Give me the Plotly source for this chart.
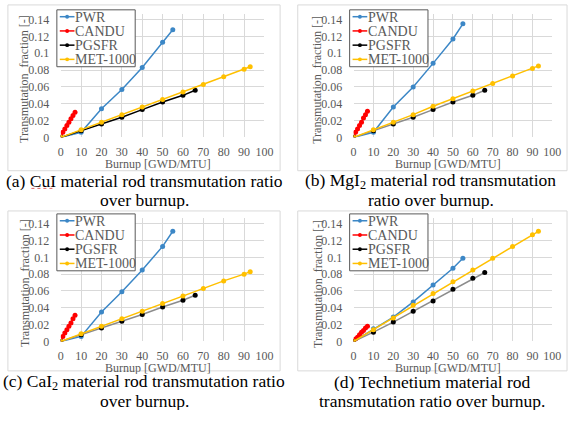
import plotly.graph_objects as go

W, H = 577, 423

reactors = ["PWR", "CANDU", "PGSFR", "MET-1000"]
colors = {"PWR": "#3C87C6", "CANDU": "#FF0000", "PGSFR": "#000000", "MET-1000": "#FFC000"}

burnup_pwr = [0, 10, 20, 30, 40, 50, 55]
burnup_candu = [0, 1, 2, 3, 4, 5, 6, 7]
burnup_pgsfr = [0, 10, 20, 30, 40, 50, 60, 66]
burnup_met = [0, 10, 20, 30, 40, 50, 60, 70, 80, 90, 93]

# (a) CuI
cui_pwr = [0, 0.006, 0.034, 0.057, 0.083, 0.113, 0.128]
cui_candu = [0, 0.006, 0.010, 0.014, 0.018, 0.022, 0.026, 0.030]
cui_pgsfr = [0, 0.008, 0.016, 0.024, 0.033, 0.042, 0.050, 0.056]
cui_met = [0, 0.009, 0.018, 0.027, 0.036, 0.045, 0.054, 0.063, 0.072, 0.081, 0.084]

# (b) MgI2
mgi_pwr = [0, 0.006, 0.036, 0.060, 0.088, 0.117, 0.135]
mgi_candu = [0, 0.006, 0.010, 0.014, 0.018, 0.023, 0.027, 0.031]
mgi_pgsfr = [0, 0.008, 0.016, 0.024, 0.033, 0.042, 0.050, 0.056]
mgi_met = [0, 0.009, 0.018, 0.027, 0.037, 0.046, 0.055, 0.064, 0.073, 0.082, 0.085]

# (c) CaI2
cai_pwr = [0, 0.006, 0.035, 0.059, 0.085, 0.113, 0.131]
cai_candu = [0, 0.006, 0.010, 0.014, 0.018, 0.022, 0.027, 0.031]
cai_pgsfr = [0, 0.008, 0.016, 0.024, 0.032, 0.041, 0.049, 0.055]
cai_met = [0, 0.009, 0.018, 0.027, 0.036, 0.045, 0.054, 0.063, 0.072, 0.080, 0.083]

# (d) Technetium
tc_pwr = [0, 0.015, 0.029, 0.047, 0.067, 0.087, 0.099]
tc_candu = [0, 0.003, 0.005, 0.008, 0.011, 0.013, 0.016, 0.018]
tc_pgsfr = [0, 0.011, 0.023, 0.036, 0.048, 0.062, 0.075, 0.082]
tc_met = [0, 0.014, 0.028, 0.043, 0.057, 0.071, 0.085, 0.099, 0.113, 0.127, 0.131]

captions = [
    ("(a) CuI material rod transmutation ratio", "over burnup."),
    ("(b) MgI<sub>2</sub> material rod transmutation", "ratio over burnup."),
    ("(c) CaI<sub>2</sub> material rod transmutation ratio", "over burnup."),
    ("(d) Technetium material rod", "transmutation ratio over burnup."),
]

x_ticks = [0, 10, 20, 30, 40, 50, 60, 70, 80, 90, 100]
y_ticks = [0, 0.02, 0.04, 0.06, 0.08, 0.1, 0.12, 0.14]
y_ticktext = ["0", "0.02", "0.04", "0.06", "0.08", "0.1", "0.12", "0.14"]

panels = [
    (cui_pwr, cui_candu, cui_pgsfr, cui_met, "#000000"),
    (mgi_pwr, mgi_candu, mgi_pgsfr, mgi_met, "#8C8C8C"),
    (cai_pwr, cai_candu, cai_pgsfr, cai_met, "#8C8C8C"),
    (tc_pwr, tc_candu, tc_pgsfr, tc_met, "#8C8C8C"),
]

# pixel geometry: (x0, x100, y0px, y014px)
geom = [
    (59, 267, 139, 19),
    (358, 561, 139, 19),
    (59, 267, 347, 227),
    (358, 561, 347, 227),
]
frames = [(5, 4, 283, 173), (301, 4, 576, 173), (5, 214, 283, 377), (301, 214, 576, 377)]
cap_pos = [(144, 183, 203), (437, 183, 203), (144, 388, 408), (438, 388, 408)]

YMAX = 0.147
XMAX = 100

fig = go.Figure()
font_fam = "Liberation Serif"
tick_col = "#595959"
shapes = []
annotations = []

def px(x):
    return x / W

def py(y):
    return 1 - y / H

for i, (pwr, candu, pgsfr, met, pg_line) in enumerate(panels):
    n = i + 1
    xa = "x" if n == 1 else f"x{n}"
    ya = "y" if n == 1 else f"y{n}"
    series = [
        ("PWR", burnup_pwr, pwr, colors["PWR"], colors["PWR"]),
        ("CANDU", burnup_candu, candu, colors["CANDU"], colors["CANDU"]),
        ("PGSFR", burnup_pgsfr, pgsfr, pg_line, "#000000"),
        ("MET-1000", burnup_met, met, colors["MET-1000"], colors["MET-1000"]),
    ]
    for name, xs, ys, lc, mc in series:
        fig.add_trace(go.Scatter(
            x=xs, y=ys, mode="lines+markers", name=name,
            line=dict(color=lc, width=1.5), marker=dict(color=mc, size=5),
            xaxis=xa, yaxis=ya, showlegend=False,
        ))
    x0, x100, y0, y14 = geom[i]
    pxper = (x100 - x0) / 100.0
    pyper = (y0 - y14) / 0.14
    ax_common = dict(showgrid=True, gridcolor="#D9D9D9", gridwidth=1, zeroline=False,
                     showline=False, tickfont=dict(family=font_fam, size=12, color=tick_col),
                     ticks="outside", tickcolor="rgba(0,0,0,0)", fixedrange=True)
    fig.update_layout({
        ("xaxis" if n == 1 else f"xaxis{n}"): dict(
            domain=[px(x0), px(x0 + pxper * XMAX)], range=[0, XMAX], anchor=ya,
            tickvals=x_ticks, ticklen=3, **ax_common),
        ("yaxis" if n == 1 else f"yaxis{n}"): dict(
            domain=[py(y0), py(y0 - pyper * YMAX)], range=[0, YMAX], anchor=xa,
            tickvals=y_ticks, ticktext=y_ticktext, ticklen=8, **ax_common),
    })
    # axis titles
    annotations.append(dict(xref="paper", yref="paper", x=px(x0 + (x100 - x0) / 2 - 5), y=py(y0 + 27),
                            xanchor="center", yanchor="middle", text="Burnup [GWD/MTU]", showarrow=False,
                            height=12, borderpad=0,
                            font=dict(family=font_fam, size=12, color=tick_col)))
    annotations.append(dict(xref="paper", yref="paper", x=px(x0 - 37), y=py((y0 + y14) / 2 + 1),
                            xanchor="center", yanchor="middle", text="Transmutation  fraction [-]",
                            textangle=-90, showarrow=False, borderpad=0,
                            font=dict(family=font_fam, size=12, color=tick_col)))
    fx0, fy0, fx1, fy1 = frames[i]
    shapes.append(dict(type="rect", xref="paper", yref="paper",
                       x0=px(fx0), x1=px(fx1), y0=py(fy1), y1=py(fy0),
                       line=dict(color="#D9D9D9", width=1), fillcolor="rgba(0,0,0,0)", layer="below"))
    # legend box
    lx0 = x0 - 4
    lx1 = lx0 + 80
    ly0 = y14 - 10
    ly1 = ly0 + 58
    shapes.append(dict(type="rect", xref="paper", yref="paper",
                       x0=px(lx0), x1=px(lx1), y0=py(ly1), y1=py(ly0),
                       line=dict(color="#595959", width=1), fillcolor="white", layer="above"))
    for k, name in enumerate(reactors):
        yy = ly0 + 7 + k * 14.5
        c = colors[name]
        shapes.append(dict(type="line", xref="paper", yref="paper",
                           x0=px(lx0 + 3), x1=px(lx0 + 18), y0=py(yy), y1=py(yy),
                           line=dict(color=c, width=1.5), layer="above"))
        shapes.append(dict(type="circle", xref="paper", yref="paper",
                           x0=px(lx0 + 8.5), x1=px(lx0 + 12.5), y0=py(yy + 2), y1=py(yy - 2),
                           line=dict(color=c, width=0), fillcolor=c, layer="above"))
        annotations.append(dict(xref="paper", yref="paper", x=px(lx0 + 18), y=py(yy + 0.5),
                                xanchor="left", yanchor="middle", text=name, showarrow=False,
                                height=13, borderpad=0,
                                font=dict(family=font_fam, size=14, color=tick_col)))
    cx, cy1, cy2 = cap_pos[i]
    l1, l2 = captions[i]
    for txt, cy in ((l1, cy1), (l2, cy2)):
        annotations.append(dict(xref="paper", yref="paper", x=px(cx), y=py(cy),
                                xanchor="center", yanchor="middle", text=txt, showarrow=False,
                                height=18, borderpad=0,
                                font=dict(family=font_fam, size=17.5, color="#000000")))

# red spell-check squiggle under "CuI"
shapes.append(dict(type="line", xref="paper", yref="paper",
                   x0=px(29), x1=px(52), y0=py(191), y1=py(191),
                   line=dict(color="#E06060", width=1, dash="dot"), layer="above"))

fig.update_layout(width=W, height=H, margin=dict(l=0, r=0, t=0, b=0),
                  paper_bgcolor="white", plot_bgcolor="white",
                  font=dict(family=font_fam),
                  shapes=shapes, annotations=annotations, showlegend=False)
fig.write_html("out.html", config={"displayModeBar": False, "staticPlot": True},
               post_script="document.body.style.margin='0';")
